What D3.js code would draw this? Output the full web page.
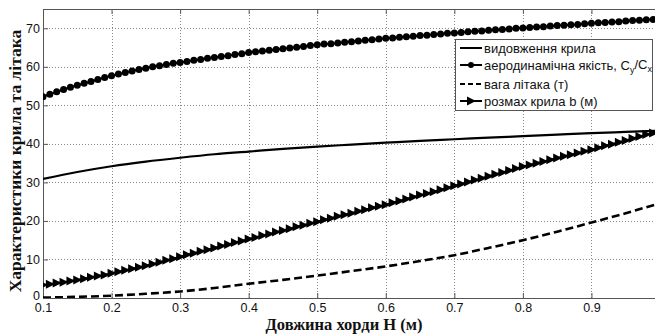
<!DOCTYPE html>
<html>
<head>
<meta charset="utf-8">
<script src="https://cdn.jsdelivr.net/npm/d3@7"></script>
<style>
  body { margin: 0; background: #fff; overflow: hidden; }
  svg { display: block; }
</style>
</head>
<body>
<script>
// x values, step 0.01 (markered series) and 0.05 (plain lines)
var chord = d3.range(91).map(function(i) { return +(0.1 + i * 0.01).toFixed(2); });
var chordCoarse = d3.range(19).map(function(i) { return +(0.1 + i * 0.05).toFixed(2); });

// аеродинамічна якість Cy/Cx (dots)
var aeroQuality = [52.2, 52.9, 53.5, 54.1, 54.7, 55.2, 55.7, 56.2, 56.7, 57.2,
  57.7, 58.1, 58.5, 58.9, 59.3, 59.6, 60.0, 60.3, 60.6, 60.9,
  61.1, 61.4, 61.7, 61.9, 62.2, 62.4, 62.7, 62.9, 63.2, 63.4,
  63.7, 63.9, 64.1, 64.3, 64.5, 64.7, 64.9, 65.1, 65.3, 65.5,
  65.7, 65.9, 66.0, 66.2, 66.4, 66.5, 66.7, 66.9, 67.0, 67.2,
  67.4, 67.5, 67.7, 67.8, 67.9, 68.1, 68.2, 68.4, 68.5, 68.7,
  68.8, 68.9, 69.1, 69.2, 69.3, 69.5, 69.6, 69.7, 69.8, 70.0,
  70.1, 70.2, 70.3, 70.4, 70.6, 70.7, 70.8, 70.9, 71.0, 71.2,
  71.3, 71.4, 71.5, 71.6, 71.7, 71.9, 72.0, 72.1, 72.2, 72.3, 72.5];

// розмах крила b (м) (triangles)
var wingSpan = [3.4, 3.6, 3.9, 4.1, 4.4, 4.7, 5.0, 5.4, 5.7, 6.0,
  6.4, 6.8, 7.2, 7.6, 8.0, 8.4, 8.8, 9.3, 9.8, 10.2,
  10.7, 11.2, 11.6, 12.1, 12.5, 13.0, 13.5, 13.9, 14.4, 14.8,
  15.3, 15.7, 16.2, 16.6, 17.1, 17.5, 18.0, 18.5, 18.9, 19.4,
  19.8, 20.3, 20.7, 21.2, 21.6, 22.0, 22.5, 22.9, 23.4, 23.8,
  24.2, 24.7, 25.2, 25.7, 26.2, 26.7, 27.1, 27.6, 28.1, 28.6,
  29.1, 29.6, 30.1, 30.6, 31.1, 31.6, 32.1, 32.6, 33.1, 33.6,
  34.1, 34.5, 35.0, 35.4, 35.9, 36.3, 36.8, 37.2, 37.6, 38.1,
  38.5, 39.0, 39.5, 39.9, 40.4, 40.9, 41.4, 41.9, 42.4, 42.8, 43.3];

// видовження крила (solid)
var aspectRatio = [30.9, 32.7, 34.2, 35.4, 36.4, 37.3, 38.0, 38.7, 39.3, 39.8,
  40.3, 40.8, 41.2, 41.6, 42.0, 42.4, 42.8, 43.1, 43.4];

// вага літака (т) (dashed)
var planeWeight = [0.1, 0.3, 0.6, 1.1, 1.7, 2.6, 3.7, 4.7, 5.8, 7.0,
  8.2, 9.6, 11.1, 13.0, 15.0, 17.2, 19.6, 22.0, 24.6];

var xTicks = [0.1, 0.2, 0.3, 0.4, 0.5, 0.6, 0.7, 0.8, 0.9, 1.0];
var yTicks = [0, 10, 20, 30, 40, 50, 60, 70];

var W = 655, H = 334;
var plot = {left: 43, top: 9, right: 660, bottom: 298};

var svg = d3.select("body").append("svg")
    .attr("width", W)
    .attr("height", H);

var x = d3.scaleLinear().domain([0.1, 1.0]).range([plot.left, plot.right]);
var y = d3.scaleLinear().domain([0, 75]).range([plot.bottom, plot.top]);

svg.append("clipPath").attr("id", "clip")
  .append("rect")
    .attr("x", plot.left).attr("y", plot.top)
    .attr("width", plot.right - plot.left).attr("height", plot.bottom - plot.top);

// grid
var grid = svg.append("g").attr("stroke", "#888").attr("stroke-width", 1)
    .attr("stroke-dasharray", "1,2").attr("shape-rendering", "crispEdges");
grid.selectAll(".gx").data(xTicks.slice(1)).enter().append("line")
    .attr("x1", function(d) { return Math.round(x(d)) + 0.5; })
    .attr("x2", function(d) { return Math.round(x(d)) + 0.5; })
    .attr("y1", plot.top).attr("y2", plot.bottom);
grid.selectAll(".gy").data(yTicks.slice(1)).enter().append("line")
    .attr("y1", function(d) { return Math.round(y(d)) + 0.5; })
    .attr("y2", function(d) { return Math.round(y(d)) + 0.5; })
    .attr("x1", plot.left).attr("x2", plot.right);

// axes (Matlab style, ticks inside)
var xAxis = svg.append("g")
    .attr("transform", "translate(0," + plot.bottom + ")")
    .call(d3.axisBottom(x).tickValues(xTicks).tickSizeInner(-5).tickSizeOuter(0).tickPadding(5)
      .tickFormat(function(d) { return d === 1 ? "1" : d3.format(".1f")(d); }));
var xTop = svg.append("g")
    .attr("transform", "translate(0," + plot.top + ")")
    .call(d3.axisTop(x).tickValues(xTicks).tickSizeInner(-5).tickSizeOuter(0).tickFormat(""));
var yAxis = svg.append("g")
    .attr("transform", "translate(" + plot.left + ",0)")
    .call(d3.axisLeft(y).tickValues(yTicks).tickSizeInner(-5).tickSizeOuter(0).tickPadding(3));

[xAxis, xTop, yAxis].forEach(function(g) {
  g.select(".domain").attr("stroke", "#555");
  g.selectAll(".tick line").attr("stroke", "#555");
  g.selectAll("text").attr("font-family", "Liberation Sans, Arial, sans-serif")
    .attr("font-size", 12.5).attr("fill", "#111");
});
yAxis.selectAll(".tick").filter(function(d) { return d === 0; }).select("text").attr("dy", "0.1em");

// series
var g = svg.append("g").attr("clip-path", "url(#clip)");

var lineFine = d3.line()
    .x(function(d, i) { return x(chord[i]); })
    .y(function(d) { return y(d); });
var lineCoarse = d3.line()
    .x(function(d, i) { return x(chordCoarse[i]); })
    .y(function(d) { return y(d); })
    .curve(d3.curveMonotoneX);

g.append("path").datum(aspectRatio)
    .attr("d", lineCoarse).attr("fill", "none").attr("stroke", "#000").attr("stroke-width", 2.2);
g.append("path").datum(planeWeight)
    .attr("d", lineCoarse).attr("fill", "none").attr("stroke", "#000").attr("stroke-width", 2.6)
    .attr("stroke-dasharray", "8,4");

g.append("path").datum(aeroQuality)
    .attr("d", lineFine).attr("fill", "none").attr("stroke", "#000").attr("stroke-width", 2);
g.selectAll(".dot").data(aeroQuality).enter().append("circle")
    .attr("cx", function(d, i) { return x(chord[i]); })
    .attr("cy", function(d) { return y(d); })
    .attr("r", 3.5).attr("fill", "#000");

g.append("path").datum(wingSpan)
    .attr("d", lineFine).attr("fill", "none").attr("stroke", "#000").attr("stroke-width", 2);
var tri = "M-4,-4.5L5,0L-4,4.5Z";
g.selectAll(".tri").data(wingSpan).enter().append("path")
    .attr("transform", function(d, i) { return "translate(" + x(chord[i]) + "," + y(d) + ")"; })
    .attr("d", tri).attr("fill", "#000");

// legend
var leg = svg.append("g").attr("font-family", "Liberation Sans, Arial, sans-serif")
    .attr("font-size", 13).attr("fill", "#111");
leg.append("rect").attr("x", 455.5).attr("y", 39.5).attr("width", 197).attr("height", 71)
    .attr("fill", "#fff").attr("stroke", "#555");
var legY = [48, 65, 84, 101];
legY.forEach(function(ly, i) {
  var l = leg.append("line").attr("x1", 460).attr("x2", 482).attr("y1", ly).attr("y2", ly)
    .attr("stroke", "#000").attr("stroke-width", 2);
  if (i === 2) l.attr("stroke-dasharray", "5,3");
  if (i === 1) leg.append("circle").attr("cx", 471).attr("cy", ly).attr("r", 3).attr("fill", "#000");
  if (i === 3) leg.append("path").attr("transform", "translate(471," + ly + ")").attr("d", tri).attr("fill", "#000");
});
leg.append("text").attr("x", 484).attr("y", legY[0]).attr("dy", "0.35em").text("видовження крила");
var t2 = leg.append("text").attr("x", 484).attr("y", legY[1]).attr("dy", "0.35em");
t2.append("tspan").text("аеродинамічна якість, C");
t2.append("tspan").attr("font-size", 9).attr("dy", "0.35em").text("y");
t2.append("tspan").attr("dy", "-0.3em").text("/C");
t2.append("tspan").attr("font-size", 9).attr("dy", "0.35em").text("x");
leg.append("text").attr("x", 484).attr("y", legY[2]).attr("dy", "0.35em").text("вага літака (т)");
leg.append("text").attr("x", 484).attr("y", legY[3]).attr("dy", "0.35em").text("розмах крила b (м)");

// axis titles
svg.append("text")
    .attr("x", 344).attr("y", 329.5)
    .attr("text-anchor", "middle")
    .attr("font-family", "Liberation Serif, Times New Roman, serif")
    .attr("font-weight", "bold").attr("font-size", 16.5).attr("fill", "#111")
    .text("Довжина хорди H (м)");
svg.append("text")
    .attr("transform", "translate(21,161) rotate(-90)")
    .attr("text-anchor", "middle")
    .attr("font-family", "Liberation Serif, Times New Roman, serif")
    .attr("font-weight", "bold").attr("font-size", 17.5).attr("fill", "#111")
    .text("Характеристики крила та літака");
</script>
</body>
</html>
